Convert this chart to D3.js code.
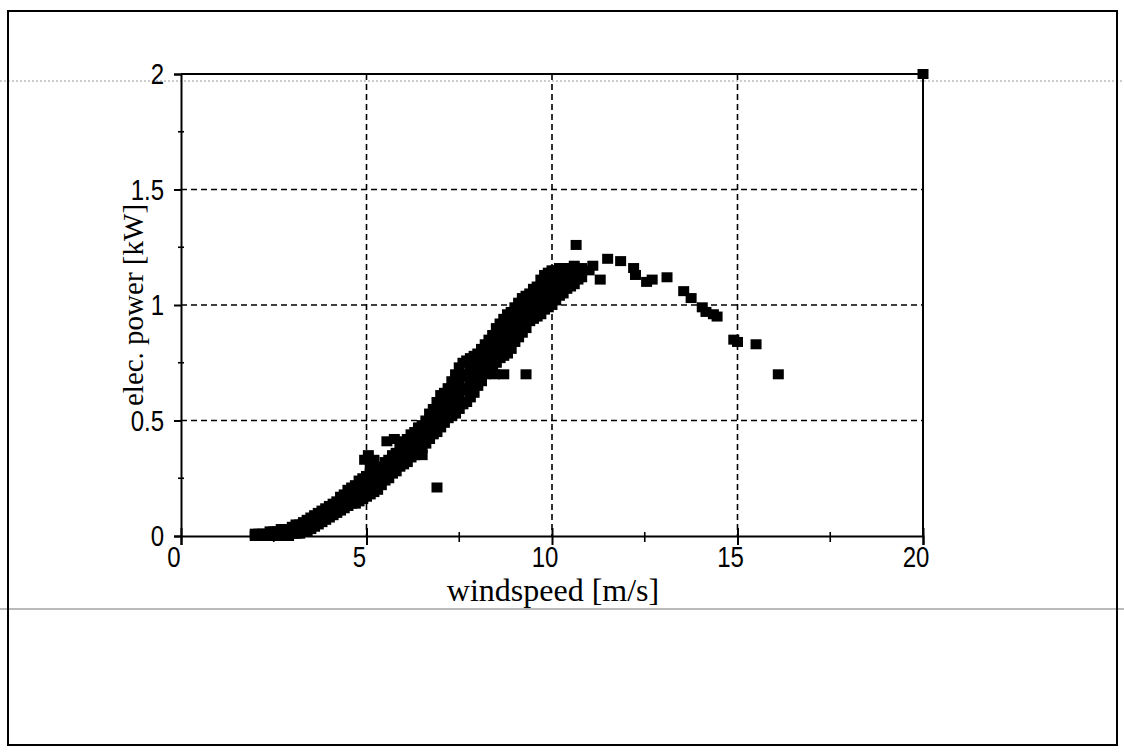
<!DOCTYPE html>
<html lang="en">
<head>
<meta charset="UTF-8">
<title>elec. power vs windspeed</title>
<script src="https://cdn.jsdelivr.net/npm/d3@7"></script>
<style>
    body{ margin:0px; background:white; }
    text{ fill:black; }
</style>
</head>
<body>
<svg id="chart"></svg>
<script>
    // --- data ---
    // dense band : one windspeed per row, the powers stacked at that speed
    const bandSpeed = [2.0,2.1,2.2,2.3,2.4,2.5,2.6,2.7,2.8,2.9,
                       3.0,3.1,3.2,3.3,3.4,3.5,3.6,3.7,3.8,3.9,
                       4.0,4.1,4.2,4.3,4.4,4.5,4.6,4.7,4.8,4.9,
                       5.0,5.1,5.2,5.3,5.4,5.5,5.6,5.7,5.8,5.9,
                       6.0,6.1,6.2,6.3,6.4,6.5,6.6,6.7,6.8,6.9,
                       7.0,7.1,7.2,7.3,7.4,7.5,7.6,7.7,7.8,7.9,
                       8.0,8.1,8.2,8.3,8.4,8.5,8.6,8.7,8.8,8.9,
                       9.0,9.1,9.2,9.3,9.4,9.5,9.6,9.7,9.8,9.9,
                       10.0,10.1,10.2,10.3,10.4,10.5,10.6,10.7,10.8,11.0];
    const bandPower = [
        [0.00,0.01],[0.00,0.01],[0.00,0.01],[0.00,0.01],[0.00,0.02],
        [0.00,0.02],[0.00,0.02],[0.00,0.03],[0.00,0.03],[0.00,0.03],
        [0.01,0.04],[0.01,0.05],[0.01,0.05],[0.02,0.06],[0.02,0.07],
        [0.03,0.08],[0.04,0.09],[0.05,0.10],[0.06,0.11],[0.07,0.12],
        [0.08,0.10,0.13],[0.09,0.11,0.14],[0.10,0.12,0.15],[0.11,0.14,0.17],[0.12,0.15,0.18],
        [0.13,0.16,0.20],[0.14,0.17,0.21],[0.14,0.18,0.22],[0.15,0.19,0.24],[0.16,0.20,0.25],
        [0.17,0.21,0.26],[0.18,0.22,0.27],[0.19,0.24,0.28],[0.20,0.25,0.29],[0.22,0.26,0.30],
        [0.24,0.28,0.32],[0.25,0.29,0.33],[0.27,0.31,0.35],[0.28,0.32,0.36],[0.30,0.34,0.38],
        [0.31,0.35,0.40],[0.32,0.37,0.42],[0.34,0.39,0.44],[0.35,0.40,0.45],[0.37,0.42,0.47],
        [0.38,0.43,0.48],[0.40,0.45,0.50],[0.42,0.47,0.53],[0.44,0.48,0.52,0.55],[0.45,0.50,0.54,0.58],
        [0.47,0.52,0.56,0.61],[0.49,0.53,0.58,0.62],[0.51,0.55,0.60,0.64],[0.52,0.57,0.62,0.67],[0.53,0.59,0.65,0.70],
        [0.55,0.61,0.67,0.73],[0.57,0.63,0.69,0.75],[0.58,0.64,0.70,0.76],[0.60,0.66,0.72,0.77],[0.62,0.68,0.73,0.78],
        [0.65,0.70,0.75,0.79],[0.67,0.72,0.77,0.81],[0.70,0.74,0.79,0.83],[0.72,0.76,0.81,0.85],[0.74,0.78,0.83,0.87],
        [0.75,0.80,0.85,0.90],[0.77,0.82,0.87,0.92],[0.78,0.83,0.89,0.94],[0.79,0.85,0.91,0.96],[0.81,0.87,0.92,0.97],
        [0.84,0.89,0.94,0.99],[0.86,0.91,0.96,1.01],[0.88,0.93,0.98,1.03],[0.90,0.95,1.00,1.04],[0.93,0.97,1.01,1.05],
        [0.94,0.98,1.02,1.07],[0.95,1.00,1.04,1.08],[0.96,1.01,1.06,1.11],[0.98,1.03,1.08,1.13],[0.99,1.04,1.09,1.14],
        [1.00,1.05,1.10,1.15],[1.02,1.06,1.11,1.15],[1.04,1.08,1.12,1.16],[1.05,1.09,1.13,1.16],[1.07,1.10,1.13,1.16],
        [1.08,1.12,1.16],[1.09,1.13,1.17],[1.11,1.15],[1.12,1.16],[1.15]
    ];
    // scattered points outside the band
    const looseSpeed = [4.95,5.05,5.2,5.1,5.55,5.75,5.95,6.5,6.9,8.45,8.7,9.3,
                        10.65,11.1,11.3,11.5,11.85,12.2,12.25,12.55,12.7,13.1,13.55,13.75,
                        14.05,14.15,14.35,14.45,14.9,15.0,15.5,16.1,20.0];
    const loosePower = [0.33,0.35,0.33,0.30,0.41,0.42,0.41,0.35,0.21,0.70,0.70,0.70,
                        1.26,1.17,1.11,1.20,1.19,1.16,1.13,1.10,1.11,1.12,1.06,1.03,
                        0.99,0.97,0.96,0.95,0.85,0.84,0.83,0.70,2.00];

    const xTicks = [0,5,10,15,20];
    const yTicks = [0,0.5,1,1.5,2];
    const xMinor = [2.5,7.5,12.5,17.5];
    const yMinor = [0.25,0.75,1.25,1.75];

    const W = 1124, H = 752;
    const pLeft = 181, pRight = 923, pTop = 74, pBottom = 536;

    const svg = d3.select('#chart').attr('width',W).attr('height',H);

    svg.append('rect').attr('x',0).attr('y',0).attr('width',W).attr('height',H).attr('fill','white');

    // scan artefacts : faint lines across the sheet
    svg.append('line').attr('x1',0).attr('x2',W).attr('y1',81).attr('y2',81)
        .attr('stroke','#999').attr('stroke-width',1).attr('stroke-dasharray','2,2');
    svg.append('line').attr('x1',0).attr('x2',W).attr('y1',609).attr('y2',609)
        .attr('stroke','#777').attr('stroke-width',1.2);

    // outer frame
    svg.append('rect').attr('x',8).attr('y',11).attr('width',1109).attr('height',734)
        .attr('fill','none').attr('stroke','black').attr('stroke-width',2);

    const x = d3.scaleLinear().domain([0,20]).range([pLeft,pRight]);
    const y = d3.scaleLinear().domain([0,2]).range([pBottom,pTop]);

    // dashed grid
    const grid = svg.append('g');
    grid.selectAll('.gx').data(xTicks.slice(1,-1)).join('line')
        .attr('x1',d=>x(d)).attr('x2',d=>x(d)).attr('y1',pTop).attr('y2',pBottom)
        .attr('stroke','black').attr('stroke-width',1.6).attr('stroke-dasharray','6,4');
    grid.selectAll('.gy').data(yTicks.slice(1,-1)).join('line')
        .attr('x1',pLeft).attr('x2',pRight).attr('y1',d=>y(d)).attr('y2',d=>y(d))
        .attr('stroke','black').attr('stroke-width',1.6).attr('stroke-dasharray','6,4');

    // plot frame top / right
    svg.append('line').attr('x1',pLeft).attr('x2',pRight).attr('y1',pTop).attr('y2',pTop)
        .attr('stroke','black').attr('stroke-width',2);
    svg.append('line').attr('x1',pRight).attr('x2',pRight).attr('y1',pTop).attr('y2',pBottom)
        .attr('stroke','black').attr('stroke-width',2);

    // axes
    const xAxis = svg.append('g').attr('transform','translate(0,'+pBottom+')')
        .call(d3.axisBottom(x).tickValues(xTicks).tickSize(9).tickFormat(''));
    const yAxis = svg.append('g').attr('transform','translate('+pLeft+',0)')
        .call(d3.axisLeft(y).tickValues(yTicks).tickSize(7).tickFormat(''));
    [xAxis,yAxis].forEach(a=>{
        a.select('.domain').attr('stroke','black').attr('stroke-width',2);
        a.selectAll('.tick line').attr('stroke','black').attr('stroke-width',2);
    });
    xAxis.selectAll('.tick line').attr('y1',-8);

    svg.append('g').selectAll('line').data(xMinor).join('line')
        .attr('x1',d=>x(d)).attr('x2',d=>x(d)).attr('y1',pBottom-4).attr('y2',pBottom+6)
        .attr('stroke','black').attr('stroke-width',1.6);
    svg.append('g').selectAll('line').data(yMinor).join('line')
        .attr('x1',pLeft-3).attr('x2',pLeft+3).attr('y1',d=>y(d)).attr('y2',d=>y(d))
        .attr('stroke','black').attr('stroke-width',1.6);

    // tick labels (the scan has tall, narrow digits)
    const sans = 'Arial, "Liberation Sans", sans-serif';
    svg.append('g').selectAll('text').data(xTicks).join('text')
        .attr('transform',d=>'translate('+(x(d)-7)+','+(pBottom+31)+') scale(1,1.25)')
        .attr('text-anchor','middle')
        .attr('font-family',sans).attr('font-size','24px')
        .text(d=>d);
    svg.append('g').selectAll('text').data(yTicks).join('text')
        .attr('transform',d=>'translate('+(pLeft-17)+','+(y(d)+10)+') scale(1,1.25)')
        .attr('text-anchor','end')
        .attr('font-family',sans).attr('font-size','24px')
        .text(d=>d);

    // axis titles
    const serif = '"Times New Roman", "Liberation Serif", serif';
    svg.append('text').attr('x',553).attr('y',601).attr('text-anchor','middle')
        .attr('font-family',serif).attr('font-size','32px')
        .text('windspeed [m/s]');
    svg.append('text').attr('transform','translate(143,'+((pTop+pBottom)/2)+') rotate(-90)')
        .attr('text-anchor','middle')
        .attr('font-family',serif).attr('font-size','29px')
        .text('elec. power [kW]');

    // markers
    const points = [];
    bandSpeed.forEach((s,i)=>bandPower[i].forEach(p=>points.push([s,p])));
    looseSpeed.forEach((s,i)=>points.push([s,loosePower[i]]));

    const mw = 11, mh = 10;
    svg.append('g').selectAll('rect').data(points).join('rect')
        .attr('x',d=>x(d[0])-mw/2).attr('y',d=>y(d[1])-mh/2)
        .attr('width',mw).attr('height',mh)
        .attr('fill','black');
</script>
</body>
</html>
